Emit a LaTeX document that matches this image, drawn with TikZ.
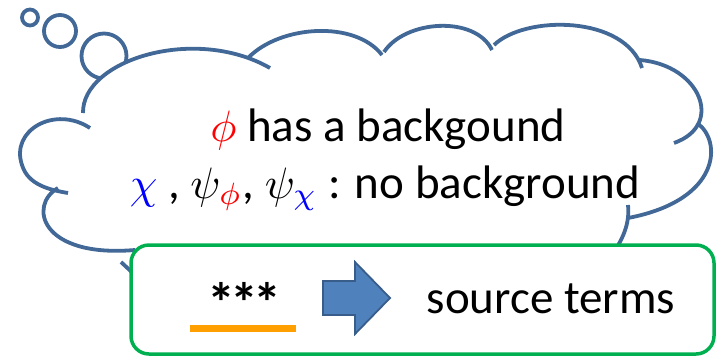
\documentclass[tikz,border=0pt]{standalone}
\usepackage{fontspec}
\setmainfont{Carlito}
\usepackage{xcolor}
\usepackage{graphicx}
\definecolor{cloudblue}{RGB}{65,104,150}
\definecolor{boxgreen}{RGB}{0,176,80}
\definecolor{arrowfill}{RGB}{79,129,189}
\definecolor{arrowline}{RGB}{56,93,138}
\definecolor{lineorange}{RGB}{255,160,0}
\newcommand{\bigmath}[1]{\scalebox{4.4}{\normalsize$#1$}}
\begin{document}
\begin{tikzpicture}[x=1pt,y=-1pt,
  cloudline/.style={draw=cloudblue,line width=3.8pt},
  bigtext/.style={inner sep=0pt,font=\fontsize{47}{56}\selectfont},
  greenbox/.style={draw=boxgreen,line width=3.5pt,fill=white,rounded corners=18pt},
  blockarrow/.style={fill=arrowfill,draw=arrowline,line width=1.8pt,line join=miter}]
\useasboundingbox (0,0) rectangle (717,357);
% thought bubbles
\draw[cloudline] (30,17.5) circle[radius=8];
\draw[cloudline] (60,31) circle[radius=16];
\draw[cloudline] (104,56) circle[radius=22.5];
% cloud interior fill
\fill[white] (83,113) .. controls (82,60) and (195,25) .. (270,68) -- (400,150) -- (130,200) -- cycle;
% cloud bumps
\draw[cloudline] (58,188) .. controls (28,205) and (40,258) .. (135,250);
\draw[cloudline] (90,128) .. controls (55,105) and (10,130) .. (22,165) .. controls (28,185) and (50,190) .. (68,193);
\draw[cloudline] (83,113) .. controls (82,60) and (195,25) .. (270,68);
\draw[cloudline] (248,58) .. controls (280,25) and (355,20) .. (382,55);
\draw[cloudline] (384,52) .. controls (405,20) and (475,15) .. (492,50);
\draw[cloudline] (494,45) .. controls (525,15) and (625,15) .. (642,68);
\draw[cloudline] (640,60) .. controls (700,65) and (725,125) .. (674,143);
\draw[cloudline] (697,123) .. controls (722,140) and (722,200) .. (628,218);
\draw[cloudline] (628,205) .. controls (630,225) and (622,240) .. (612,255);
\draw[cloudline] (121,262) .. controls (135,275) and (150,290) .. (170,300);
% texts in the cloud
\node[bigtext,anchor=base] (line1) at (388,141) {\bigmath{\textcolor{red}{\phi}} has a backgound};
\node[bigtext,anchor=base] (line2) at (385,198) {\bigmath{\textcolor{blue}{\chi}} , \bigmath{\psi_{\textcolor{red}{\phi}}}, \bigmath{\psi_{\textcolor{blue}{\chi}}} : no background};
% green box
\draw[greenbox] (131,245) rectangle (714,354);
\node[inner sep=0pt,anchor=base,font=\fontsize{56}{60}\selectfont\bfseries] (stars) at (244.5,322) {*\kern-5pt*\kern-5pt*};
\draw[line width=7pt,lineorange] (190,328) coordinate (ulA) -- (296,328) coordinate (ulB);
\draw[blockarrow] (323,281) -- (355,281) -- (355,262) -- (390,298) -- (355,334) -- (355,315) -- (323,315) -- cycle;
\node[bigtext,anchor=base] (src) at (551,313) {source terms};
\end{tikzpicture}
\end{document}
